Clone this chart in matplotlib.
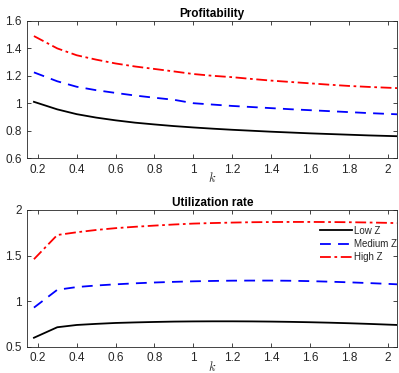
import matplotlib
matplotlib.use("Agg")
import matplotlib.pyplot as plt
import numpy as np

plt.rcParams['font.family'] = ['Liberation Sans', 'DejaVu Sans']
plt.rcParams['mathtext.fontset'] = 'cm'

k = [0.18, 0.3, 0.4, 0.5, 0.6, 0.7, 0.8, 0.9, 1.0, 1.1, 1.2, 1.3, 1.4, 1.5, 1.6, 1.7, 1.8, 1.9, 2.0, 2.05]

prof_low = [1.01, 0.955, 0.92, 0.895, 0.875, 0.858, 0.845, 0.833, 0.823, 0.814, 0.806, 0.799, 0.792, 0.786, 0.780, 0.775, 0.770, 0.765, 0.761, 0.759]
prof_med = [1.225, 1.16, 1.12, 1.095, 1.075, 1.056, 1.04, 1.025, 1.0, 0.99, 0.98, 0.972, 0.964, 0.956, 0.949, 0.942, 0.935, 0.928, 0.922, 0.919]
prof_high = [1.49, 1.40, 1.35, 1.318, 1.29, 1.268, 1.25, 1.232, 1.213, 1.20, 1.19, 1.177, 1.165, 1.155, 1.145, 1.135, 1.126, 1.119, 1.113, 1.110]

util_low = [0.60, 0.715, 0.74, 0.752, 0.762, 0.768, 0.773, 0.777, 0.779, 0.780, 0.780, 0.779, 0.777, 0.774, 0.770, 0.765, 0.759, 0.752, 0.744, 0.740]
util_med = [0.93, 1.125, 1.155, 1.172, 1.185, 1.196, 1.205, 1.212, 1.218, 1.222, 1.225, 1.226, 1.226, 1.224, 1.220, 1.214, 1.207, 1.199, 1.190, 1.185]
util_high = [1.46, 1.725, 1.755, 1.78, 1.80, 1.815, 1.828, 1.84, 1.85, 1.856, 1.861, 1.865, 1.867, 1.868, 1.868, 1.867, 1.865, 1.862, 1.858, 1.855]

xticks = [0.2, 0.4, 0.6, 0.8, 1.0, 1.2, 1.4, 1.6, 1.8, 2.0]
xticklabels = ['0.2', '0.4', '0.6', '0.8', '1', '1.2', '1.4', '1.6', '1.8', '2']
prof_yticks = [0.6, 0.8, 1.0, 1.2, 1.4, 1.6]
prof_yticklabels = ['0.6', '0.8', '1', '1.2', '1.4', '1.6']
util_yticks = [0.5, 1.0, 1.5, 2.0]
util_yticklabels = ['0.5', '1', '1.5', '2']
labels = ['Low Z', 'Medium Z', 'High Z']

fig = plt.figure(figsize=(3.99, 3.73), dpi=100)
ax1 = fig.add_axes([0.068, 0.5764, 0.928, 0.3673])
ax2 = fig.add_axes([0.068, 0.070, 0.928, 0.3673])

gray = '#262626'
lw = 1.3

def style(ax, yt, ytl, ylim, title):
    ax.set_xlim(0.145, 2.05)
    ax.set_ylim(*ylim)
    ax.set_xticks(xticks)
    ax.set_xticklabels(xticklabels)
    ax.set_yticks(yt)
    ax.set_yticklabels(ytl)
    ax.tick_params(direction='in', length=3, width=0.6, colors=gray, labelsize=8.5,
                   top=True, right=True, pad=4)
    for s in ax.spines.values():
        s.set_color(gray)
        s.set_linewidth(0.6)
    ax.set_title(title, fontsize=8.5, fontweight='bold', pad=3)
    ax.set_xlabel(r'$k$', fontsize=9, labelpad=-3, color=gray)

for ax, lo, me, hi in [(ax1, prof_low, prof_med, prof_high), (ax2, util_low, util_med, util_high)]:
    ax.plot(k, lo, color='black', lw=lw, label=labels[0])
    ax.plot(k, me, color='#0000ff', lw=lw, ls=(0, (6, 4)), label=labels[1])
    ax.plot(k, hi, color='#ff0000', lw=lw, ls=(0, (6, 2, 1.5, 2)), label=labels[2])

style(ax1, prof_yticks, prof_yticklabels, (0.6, 1.6), 'Profitability')
style(ax2, util_yticks, util_yticklabels, (0.5, 2.0), 'Utilization rate')

leg = ax2.legend(loc='upper left', bbox_to_anchor=(0.79, 0.885), frameon=False, fontsize=7,
                 handlelength=3.3, handletextpad=0.2, labelspacing=0.35, borderpad=0,
                 borderaxespad=0)
for t in leg.get_texts():
    t.set_color(gray)

fig.savefig('out.png', dpi=100)
